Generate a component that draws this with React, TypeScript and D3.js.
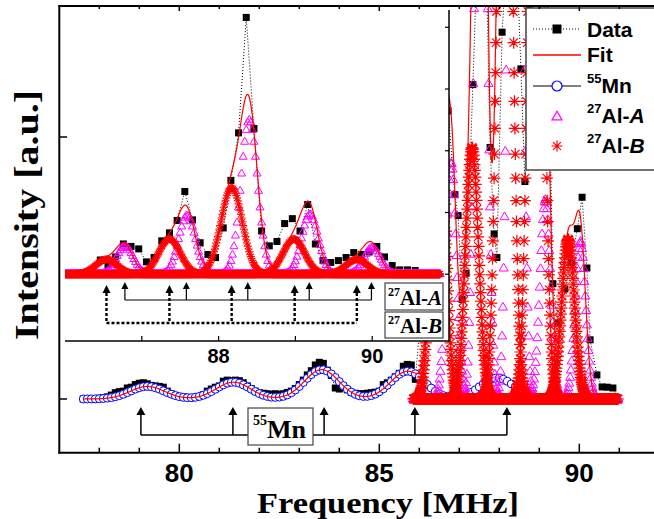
import React from "react";
import * as d3 from "d3";

const WIDTH = 654;
const HEIGHT = 519;

// ---------------- main spectrum: measured data (MHz, a.u.) ----------------
const mnDataStart = 77.6;
const mnDataStep = 0.1;
const mnDataVals = [
  0.0, 0.0, 0.02, 0.0, 0.03, 0.05, 0.08, 0.15, 0.24, 0.28,
  0.3, 0.42, 0.45, 0.55, 0.6, 0.62, 0.58, 0.52, 0.5, 0.48,
  0.45, 0.3, 0.2, 0.14, 0.1, 0.08, 0.06, 0.05, 0.06, 0.1,
  0.16, 0.3, 0.38, 0.45, 0.5, 0.68, 0.72, 0.7, 0.72, 0.7,
  0.62, 0.5, 0.4, 0.3, 0.24, 0.22, 0.2, 0.18, 0.2, 0.18,
  0.2, 0.25, 0.3, 0.4, 0.55, 0.72, 0.92, 1.08, 1.3, 1.4,
  1.36, 1.1, 0.9, 0.42, 0.38, 0.45, 0.35, 0.25, 0.22, 0.2,
  0.2, 0.22, 0.24, 0.26, 0.3, 0.55, 0.62, 0.72, 0.85, 0.98,
  1.25, 1.32, 1.3, 0.75,
];
const alDataFreq = [
  86.0, 86.1, 86.2, 86.3, 86.4, 86.5, 86.6, 86.72, 86.89, 86.97, 87.07, 87.17, 87.34,
  87.45, 87.56, 87.67, 87.77, 87.87, 87.94, 88.07, 88.2, 88.32, 88.43, 88.54, 88.64,
  88.75, 88.86, 88.97, 89.07, 89.17, 89.27, 89.34, 89.47, 89.64, 89.8, 89.95,
  90.07, 90.19, 90.27, 90.44, 90.57, 90.7, 90.84, 90.95,
];
const alDataVals = [
  2.5, 5, 8, 11, 13, 12, 10, 11, 7.8, 7.0, 3.8, 4.8, 12.0,
  19, 22, 17, 9.6, 6.3, 5.4, 14.0, 24, 30, 22, 12.6, 8.3,
  15, 22, 24, 18, 13, 10, 4.4, 2.9, 4.2, 5.2, 6.5,
  7.7, 5.0, 2.26, 0.92, 0.46, 0.45, 0.42, 0.05,
];

// fitted components of the main spectrum (centre MHz, amplitude a.u.)
const mnCenters = [79.2, 81.35, 83.56, 85.71, 87.95];
const mnAmps = [0.48, 0.64, 1.12, 1.06, 0.8];
const mnSigma = 0.43;
const mainAlACenters = [86.8, 87.54, 88.4, 89.15, 90.03];
const mainAlAAmps = [9, 35, 60, 7.6, 6.0];
const mainAlASigma = 0.13;
const mainAlBCenters = [86.47, 87.32, 88.14, 88.92, 89.72];
const mainAlBAmps = [14, 9.6, 35, 35, 6.1];
const mainAlBSigma = 0.16;
const mnArrows = [79.04, 81.34, 83.62, 85.89, 88.19];

// ---------------- inset: measured data ----------------
const insetDataStart = 86.46;
const insetDataStep = 0.1;
const insetDataVals = [
  0.23, 0.15, 0.28, 0.49, 0.45, 0.41, 0.2, 0.27, 0.54, 0.67,
  0.87, 1.34, 0.88, 0.51, 0.32, 0.27, 0.75, 1.52, 2.29, 4.16,
  2.36, 0.7, 0.46, 0.53, 0.82, 0.9, 0.7, 1.13, 0.49, 0.22,
  0.19, 0.22, 0.27, 0.35, 0.32, 0.36, 0.45, 0.28, 0.14, 0.07,
  0.07, 0.06,
];
const insetAlACenters = [86.78, 87.59, 88.4, 89.19, 90.0];
const insetAlAAmps = [0.45, 0.95, 2.5, 0.97, 0.43];
const insetAlASigma = 0.108;
const insetAlBCenters = [86.54, 87.36, 88.17, 88.98, 89.8];
const insetAlBAmps = [0.24, 0.57, 1.4, 0.57, 0.24];
const insetAlBSigma = 0.14;
const insetArrowsA = [86.78, 87.58, 88.38, 89.18, 89.99];
const insetArrowsB = [86.54, 87.36, 88.17, 88.99, 89.8];

// ticks
const mainXTicks = d3.range(78, 92);
const mainXLabels = [80, 85, 90];
const mainYTicks = [0, 10];
const insetXTicks = [87, 88, 89, 90];
const insetXLabels = [88, 90];
const insetYTicks = [0, 1, 2, 3, 4];

// ---------------- scales ----------------
const xMain = d3.scaleLinear().domain([77, 92]).range([59.3, 659.3]);
const yMain = d3.scaleLinear().domain([-2.05, 15]).range([452.7, 6]);
const xIn = d3.scaleLinear().domain([86, 91]).range([65, 449]);
const yIn = d3.scaleLinear().domain([-1.082, 4.28]).range([341, 10]);

function gauss(x: number, c: number, a: number, s: number) {
  return a * Math.exp(-((x - c) ** 2) / (2 * s * s));
}
function gsum(x: number, c: number[], a: number[], s: number) {
  let v = 0;
  for (let i = 0; i < c.length; i++) v += gauss(x, c[i], a[i], s);
  return v;
}
const grid = (a: number, b: number, step: number) =>
  d3.range(0, Math.round((b - a) / step) + 1).map((i) => a + i * step);

// every fitted line is plotted as its own curve over the whole range
function componentPoints(
  centers: number[],
  amps: number[],
  sigma: number,
  freqs: number[],
  xs: d3.ScaleLinear<number, number>,
  ys: d3.ScaleLinear<number, number>
): [number, number][] {
  const out: [number, number][] = [];
  centers.forEach((c, i) => {
    freqs.forEach((f) => {
      const y = ys(gauss(f, c, amps[i], sigma));
      if (y > -20) out.push([xs(f), y]);
    });
  });
  return out;
}

function starPath(pts: [number, number][], s: number) {
  const d = s * 0.7071;
  return pts
    .map(([x, y]) => {
      const X = x.toFixed(2);
      const Y = y.toFixed(2);
      return `M${(x - s).toFixed(2)},${Y}L${(x + s).toFixed(2)},${Y}M${X},${(y - s).toFixed(2)}L${X},${(y + s).toFixed(
        2
      )}M${(x - d).toFixed(2)},${(y - d).toFixed(2)}L${(x + d).toFixed(2)},${(y + d).toFixed(2)}M${(x - d).toFixed(
        2
      )},${(y + d).toFixed(2)}L${(x + d).toFixed(2)},${(y - d).toFixed(2)}`;
    })
    .join("");
}
function triPath(pts: [number, number][], w: number) {
  const h = w * 0.866;
  return pts
    .map(
      ([x, y]) =>
        `M${x.toFixed(2)},${(y - (h * 2) / 3).toFixed(2)}L${(x + w / 2).toFixed(2)},${(y + h / 3).toFixed(2)}L${(
          x -
          w / 2
        ).toFixed(2)},${(y + h / 3).toFixed(2)}Z`
    )
    .join("");
}
function arrowHead(x: number, y: number, w: number, h: number) {
  return `M${x},${y}L${x + w / 2},${y + h}L${x - w / 2},${y + h}Z`;
}

const SERIF = "'Liberation Serif', 'Times New Roman', serif";
const SANS = "'Liberation Sans', Arial, sans-serif";

export default function App() {
  // ----- main series -----
  const mnFreq = mnDataVals.map((_, i) => mnDataStart + i * mnDataStep);
  const mainData: [number, number][] = [
    ...mnFreq.map((f, i) => [f, mnDataVals[i]] as [number, number]),
    ...alDataFreq.map((f, i) => [f, alDataVals[i]] as [number, number]),
  ];
  const mnCircles = grid(77.6, 90.9, 0.1).map((f) => [f, gsum(f, mnCenters, mnAmps, mnSigma)]);
  const mainA = componentPoints(mainAlACenters, mainAlAAmps, mainAlASigma, grid(85.85, 90.97, 0.02), xMain, yMain);
  const mainB = componentPoints(mainAlBCenters, mainAlBAmps, mainAlBSigma, grid(85.85, 90.97, 0.01), xMain, yMain);
  const mainFit = grid(77.6, 90.97, 0.005).map((f) => {
    let v = gsum(f, mnCenters, mnAmps, mnSigma);
    if (f >= 85.85) {
      v += gsum(f, mainAlACenters, mainAlAAmps, mainAlASigma) + gsum(f, mainAlBCenters, mainAlBAmps, mainAlBSigma);
    }
    return [f, v] as [number, number];
  });
  const mainLine = d3
    .line<[number, number]>()
    .x((d) => xMain(d[0]))
    .y((d) => Math.max(-50, yMain(d[1])));

  // ----- inset series -----
  const inData: [number, number][] = insetDataVals.map((v, i) => [insetDataStart + i * insetDataStep, v]);
  const inA = componentPoints(insetAlACenters, insetAlAAmps, insetAlASigma, grid(86.0, 90.88, 0.02), xIn, yIn);
  const inB = componentPoints(insetAlBCenters, insetAlBAmps, insetAlBSigma, grid(86.0, 90.88, 0.01), xIn, yIn);
  const inFit = grid(86.0, 90.88, 0.005).map(
    (f) =>
      [f, gsum(f, insetAlACenters, insetAlAAmps, insetAlASigma) + gsum(f, insetAlBCenters, insetAlBAmps, insetAlBSigma)] as [
        number,
        number
      ]
  );
  const inLine = d3
    .line<[number, number]>()
    .x((d) => xIn(d[0]))
    .y((d) => yIn(d[1]));

  const sq = 7;

  return (
    <svg
      width={WIDTH}
      height={HEIGHT}
      style={{ position: "absolute", left: 0, top: 0, background: "#fff" }}
    >
      <defs>
        <clipPath id="mainClip">
          <rect x={59.3} y={6} width={600} height={446.7} />
        </clipPath>
        <clipPath id="inClip">
          <rect x={65} y={10} width={384} height={331} />
        </clipPath>
      </defs>
      <rect x={0} y={0} width={WIDTH} height={HEIGHT} fill="#fff" />

      {/* ---------- main plot ---------- */}
      <g clipPath="url(#mainClip)">
        <path d={mainLine(mainData) || ""} fill="none" stroke="#000" strokeWidth={1} strokeDasharray="1,2" />
        {mainData.map(([f, v], i) => (
          <rect key={"md" + i} x={xMain(f) - sq / 2} y={yMain(v) - sq / 2} width={sq} height={sq} fill="#000" />
        ))}
        {mnCircles.map(([f, v], i) => (
          <circle key={"mc" + i} cx={xMain(f)} cy={yMain(v)} r={4} fill="#fff" stroke="#0000ff" strokeWidth={1} />
        ))}
        <path d={triPath(mainA, 9)} fill="none" stroke="#ff00ff" strokeWidth={1} />
        <path d={starPath(mainB, 6)} fill="none" stroke="#ff0000" strokeWidth={1.2} />
        <path d={mainLine(mainFit) || ""} fill="none" stroke="#ff0000" strokeWidth={1.2} />
      </g>

      {/* Mn arrows */}
      <g stroke="#000" strokeWidth={1.5} fill="none">
        {mnArrows.map((f, i) => (
          <line key={"ma" + i} x1={xMain(f)} x2={xMain(f)} y1={412} y2={435} />
        ))}
        <line x1={xMain(mnArrows[0])} x2={xMain(mnArrows[mnArrows.length - 1])} y1={435} y2={435} />
      </g>
      {mnArrows.map((f, i) => (
        <path key={"mh" + i} d={arrowHead(xMain(f), 407, 9, 8)} fill="#000" />
      ))}
      <rect x={248} y={408} width={65} height={37} fill="#fff" stroke="#444" strokeWidth={1.2} />
      <text x={253} y={438} fontFamily={SERIF} fontWeight="bold" fontSize={26} fill="#000">
        <tspan fontSize={14} dy={-13}>55</tspan>
        <tspan dy={13}>Mn</tspan>
      </text>

      {/* ---------- inset ---------- */}
      <rect x={60.5} y={7} width={388.5} height={334} fill="#fff" />
      <g clipPath="url(#inClip)">
        <path d={inLine(inData) || ""} fill="none" stroke="#000" strokeWidth={1} strokeDasharray="1,2" />
        {inData.map(([f, v], i) => (
          <rect key={"id" + i} x={xIn(f) - sq / 2} y={yIn(v) - sq / 2} width={sq} height={sq} fill="#000" />
        ))}
        <path d={triPath(inA, 8)} fill="none" stroke="#ff00ff" strokeWidth={1} />
        <path d={starPath(inB, 4)} fill="none" stroke="#ff0000" strokeWidth={1} />
        <path d={inLine(inFit) || ""} fill="none" stroke="#ff0000" strokeWidth={1.2} />
      </g>
      {/* inset Al-A arrows (solid) */}
      <g stroke="#000" strokeWidth={1.2} fill="none">
        {insetArrowsA.map((f, i) => (
          <line key={"aa" + i} x1={xIn(f)} x2={xIn(f)} y1={288} y2={300} />
        ))}
        <line x1={xIn(insetArrowsA[0])} x2={xIn(insetArrowsA[insetArrowsA.length - 1])} y1={300} y2={300} />
      </g>
      {insetArrowsA.map((f, i) => (
        <path key={"ah" + i} d={arrowHead(xIn(f), 282, 7, 7)} fill="#000" />
      ))}
      {/* inset Al-B arrows (dashed) */}
      <g stroke="#000" strokeWidth={2.4} fill="none" strokeDasharray="3,2">
        {insetArrowsB.map((f, i) => (
          <line key={"ba" + i} x1={xIn(f)} x2={xIn(f)} y1={293} y2={323} />
        ))}
        <line x1={xIn(insetArrowsB[0])} x2={xIn(insetArrowsB[insetArrowsB.length - 1])} y1={323} y2={323} />
      </g>
      {insetArrowsB.map((f, i) => (
        <path key={"bh" + i} d={arrowHead(xIn(f), 285, 8, 8)} fill="#000" />
      ))}
      <rect x={385} y={283} width={58} height={27} fill="#fff" stroke="#444" strokeWidth={1.2} />
      <text x={388} y={305} fontFamily={SERIF} fontWeight="bold" fontSize={21} fill="#000">
        <tspan fontSize={12} dy={-9}>27</tspan>
        <tspan dy={9}>Al-</tspan>
        <tspan fontStyle="italic">A</tspan>
      </text>
      <rect x={385} y={312} width={58} height={26} fill="#fff" stroke="#444" strokeWidth={1.2} />
      <text x={388} y={333} fontFamily={SERIF} fontWeight="bold" fontSize={21} fill="#000">
        <tspan fontSize={12} dy={-9}>27</tspan>
        <tspan dy={9}>Al-</tspan>
        <tspan fontStyle="italic">B</tspan>
      </text>
      {/* inset axes */}
      <line x1={449} x2={449} y1={10} y2={341.7} stroke="#000" strokeWidth={1.5} />
      <line x1={65} x2={449.7} y1={341} y2={341} stroke="#000" strokeWidth={1.5} />
      {insetYTicks.map((t) => (
        <line key={"iy" + t} x1={445} x2={449} y1={yIn(t)} y2={yIn(t)} stroke="#000" strokeWidth={1.2} />
      ))}
      {insetXTicks.map((t) => (
        <line key={"ix" + t} x1={xIn(t)} x2={xIn(t)} y1={336} y2={341} stroke="#000" strokeWidth={1.2} />
      ))}
      {insetXLabels.map((t) => (
        <text
          key={"il" + t}
          x={xIn(t)}
          y={363}
          textAnchor="middle"
          fontFamily={SANS}
          fontWeight="bold"
          fontSize={20}
          fill="#000"
        >
          {t}
        </text>
      ))}

      {/* ---------- legend ---------- */}
      <rect x={526} y={8} width={140} height={162} fill="#fff" stroke="#444" strokeWidth={1.5} />
      <line x1={533} x2={581} y1={29} y2={29} stroke="#000" strokeWidth={1} strokeDasharray="1,2" />
      <rect x={552.5} y={24.5} width={9} height={9} fill="#000" />
      <line x1={533} x2={581} y1={55} y2={55} stroke="#ff0000" strokeWidth={1.5} />
      <line x1={533} x2={581} y1={86} y2={86} stroke="#000" strokeWidth={1} />
      <circle cx={557} cy={86} r={5} fill="#fff" stroke="#0000ff" strokeWidth={1.2} />
      <path d={triPath([[557, 117]], 10)} fill="none" stroke="#ff00ff" strokeWidth={1.2} />
      <path d={starPath([[557, 146]], 5.5)} fill="none" stroke="#ff0000" strokeWidth={1.2} />
      <g fontFamily={SANS} fontWeight="bold" fontSize={21} fill="#000">
        <text x={587} y={37}>Data</text>
        <text x={587} y={62}>Fit</text>
        <text x={587} y={93}>
          <tspan fontSize={13} dy={-10}>55</tspan>
          <tspan dy={10}>Mn</tspan>
        </text>
        <text x={587} y={123}>
          <tspan fontSize={13} dy={-10}>27</tspan>
          <tspan dy={10}>Al-</tspan>
          <tspan fontStyle="italic">A</tspan>
        </text>
        <text x={587} y={153}>
          <tspan fontSize={13} dy={-10}>27</tspan>
          <tspan dy={10}>Al-</tspan>
          <tspan fontStyle="italic">B</tspan>
        </text>
      </g>

      {/* ---------- main axes ---------- */}
      <line x1={59.3} x2={59.3} y1={5} y2={453.7} stroke="#000" strokeWidth={2} />
      <line x1={58.3} x2={WIDTH} y1={452.7} y2={452.7} stroke="#000" strokeWidth={2} />
      <line x1={58.3} x2={WIDTH} y1={6} y2={6} stroke="#000" strokeWidth={2} />
      {mainXTicks.map((t) => {
        const major = t % 5 === 0;
        return (
          <g key={"xt" + t}>
            <line x1={xMain(t)} x2={xMain(t)} y1={452.7} y2={452.7 - (major ? 9 : 5)} stroke="#000" strokeWidth={1.5} />
            <line x1={xMain(t)} x2={xMain(t)} y1={6} y2={6 + (major ? 5 : 3)} stroke="#000" strokeWidth={1.5} />
          </g>
        );
      })}
      {mainYTicks.map((t) => (
        <line key={"yt" + t} x1={59.3} x2={67} y1={yMain(t)} y2={yMain(t)} stroke="#000" strokeWidth={1.5} />
      ))}
      {mainXLabels.map((t) => (
        <text
          key={"xl" + t}
          x={xMain(t)}
          y={482}
          textAnchor="middle"
          fontFamily={SANS}
          fontWeight="bold"
          fontSize={26}
          fill="#000"
        >
          {t}
        </text>
      ))}
      <text
        x={388}
        y={513}
        textAnchor="middle"
        fontFamily={SERIF}
        fontWeight="bold"
        fontSize={29}
        textLength={262}
        lengthAdjust="spacingAndGlyphs"
        fill="#000"
      >
        Frequency [MHz]
      </text>
      <text
        transform="translate(38,215) rotate(-90)"
        textAnchor="middle"
        fontFamily={SERIF}
        fontWeight="bold"
        fontSize={34}
        textLength={250}
        lengthAdjust="spacingAndGlyphs"
        fill="#000"
      >
        Intensity [a.u.]
      </text>
    </svg>
  );
}
